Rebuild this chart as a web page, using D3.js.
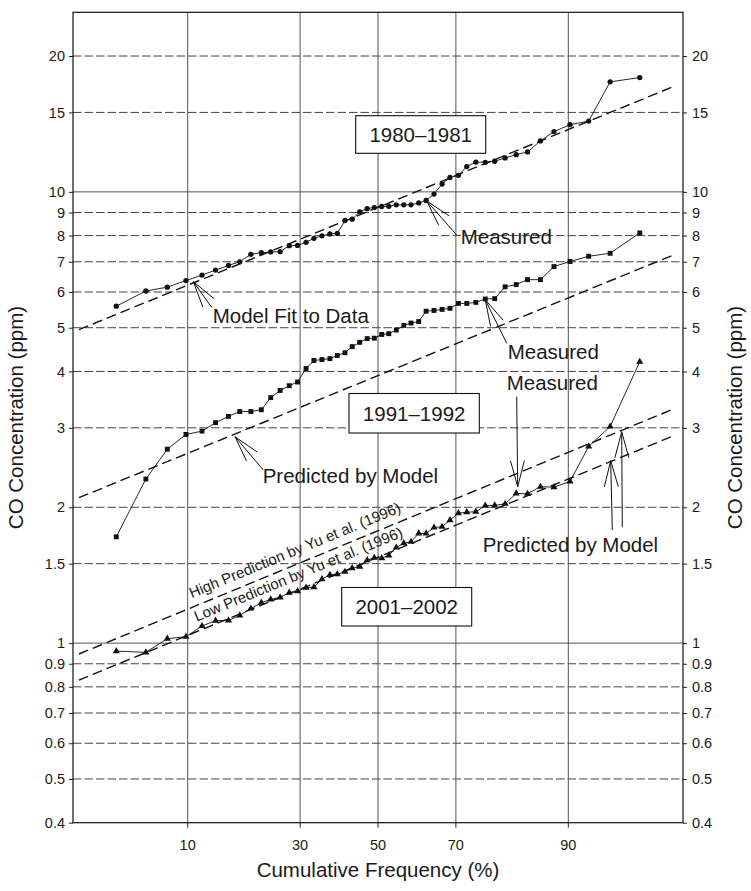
<!DOCTYPE html>
<html lang="en">
<head>
<meta charset="UTF-8">
<title>CO Concentration (ppm) vs Cumulative Frequency</title>
<style>
  body { margin: 0; background: #fff; }
  svg { font-family: "Liberation Sans", Arial, sans-serif; }
  svg text { fill: #1a1a1a; }
</style>
</head>
<body>
<svg width="751" height="891"></svg>
<script src="https://d3js.org/d3.v7.min.js"></script>
<script>
// cumulative frequency (%) of each plotted value (same for all three periods)
const freq = [3.9, 5.9, 7.8, 9.8, 11.8, 13.7, 15.7, 17.6, 19.6, 21.6, 23.5, 25.5,
  27.5, 29.4, 31.4, 33.3, 35.3, 37.3, 39.2, 41.2, 43.1, 45.1, 47.1, 49.0,
  51.0, 52.9, 54.9, 56.9, 58.8, 60.8, 62.7, 64.7, 66.7, 68.6, 70.6, 72.5,
  74.5, 76.5, 78.4, 80.4, 82.4, 84.3, 86.3, 88.2, 90.2, 92.2, 94.1, 96.1];

// measured CO (ppm)
const co1980 = [5.58, 6.03, 6.15, 6.36, 6.54, 6.71, 6.87, 7.00, 7.27, 7.33, 7.36, 7.37,
  7.60, 7.61, 7.73, 7.89, 7.99, 8.07, 8.09, 8.64, 8.70, 9.03, 9.18, 9.23,
  9.28, 9.29, 9.36, 9.36, 9.36, 9.45, 9.57, 9.89, 10.41, 10.76, 10.88, 11.38,
  11.64, 11.63, 11.69, 11.89, 12.09, 12.26, 12.97, 13.60, 14.09, 14.35, 17.53, 17.92];
const co1991 = [1.72, 2.31, 2.69, 2.90, 2.95, 3.08, 3.18, 3.26, 3.26, 3.29, 3.50, 3.63,
  3.72, 3.79, 4.06, 4.23, 4.25, 4.27, 4.34, 4.40, 4.54, 4.64, 4.73, 4.74,
  4.83, 4.85, 4.94, 5.06, 5.12, 5.16, 5.44, 5.46, 5.49, 5.52, 5.66, 5.66,
  5.69, 5.79, 5.80, 6.16, 6.23, 6.39, 6.39, 6.83, 7.01, 7.20, 7.31, 8.11];
const co2001 = [0.960, 0.954, 1.023, 1.033, 1.091, 1.122, 1.123, 1.152, 1.193, 1.229, 1.250, 1.263,
  1.294, 1.304, 1.327, 1.331, 1.386, 1.417, 1.422, 1.439, 1.466, 1.477, 1.527, 1.546,
  1.543, 1.564, 1.629, 1.665, 1.677, 1.750, 1.750, 1.804, 1.811, 1.873, 1.941, 1.951,
  1.955, 2.016, 2.019, 2.036, 2.146, 2.143, 2.221, 2.217, 2.282, 2.728, 3.020, 4.202];

// model lines: value at each end of lineFreq
const lineFreq = [2.2, 97.6];
const fit1980 = [4.95, 17.05];
const pred1991 = [2.10, 7.22];
const high2001 = [0.946, 3.29];
const low2001 = [0.828, 2.87];

const yTicks = [0.4, 0.5, 0.6, 0.7, 0.8, 0.9, 1, 1.5, 2, 3, 4, 5, 6, 7, 8, 9, 10, 15, 20];
const solidY = [1, 10];
const xTicks = [10, 30, 50, 70, 90];

// inverse standard normal CDF (Acklam)
function probit(p) {
  const a = [-3.969683028665376e+01, 2.209460984245205e+02, -2.759285104469687e+02, 1.383577518672690e+02, -3.066479806614716e+01, 2.506628277459239e+00];
  const b = [-5.447609879822406e+01, 1.615858368580409e+02, -1.556989798598866e+02, 6.680131188771972e+01, -1.328068155288572e+01];
  const c = [-7.784894002430293e-03, -3.223964580411365e-01, -2.400758277161838e+00, -2.549732539343734e+00, 4.374664141464968e+00, 2.938163982698783e+00];
  const d = [7.784695709041462e-03, 3.224671290700398e-01, 2.445134137142996e+00, 3.754408661907416e+00];
  const pl = 0.02425;
  let q, r;
  if (p < pl) {
    q = Math.sqrt(-2 * Math.log(p));
    return (((((c[0]*q+c[1])*q+c[2])*q+c[3])*q+c[4])*q+c[5]) / ((((d[0]*q+d[1])*q+d[2])*q+d[3])*q+1);
  }
  if (p > 1 - pl) {
    q = Math.sqrt(-2 * Math.log(1 - p));
    return -(((((c[0]*q+c[1])*q+c[2])*q+c[3])*q+c[4])*q+c[5]) / ((((d[0]*q+d[1])*q+d[2])*q+d[3])*q+1);
  }
  q = p - 0.5; r = q * q;
  return (((((a[0]*r+a[1])*r+a[2])*r+a[3])*r+a[4])*r+a[5])*q / (((((b[0]*r+b[1])*r+b[2])*r+b[3])*r+b[4])*r+1);
}

const svg = d3.select("svg");
const L = 73, R = 683, T = 12.3, B = 822.7;

const zScale = d3.scaleLinear().domain([probit(0.02), probit(0.98)]).range([L, R]);
const x = f => zScale(probit(f / 100));
const y = d3.scaleLog().domain([0.4, 25]).range([B, T]);

// grid
const grid = svg.append("g");
grid.selectAll("line.h")
  .data(yTicks.filter(v => v > 0.4))
  .join("line")
  .attr("x1", L).attr("x2", R)
  .attr("y1", d => y(d)).attr("y2", d => y(d))
  .attr("stroke", d => solidY.includes(d) ? "#555" : "#444")
  .attr("stroke-width", 1)
  .attr("stroke-dasharray", d => solidY.includes(d) ? null : "8.5,3");
grid.selectAll("line.v")
  .data(xTicks)
  .join("line")
  .attr("x1", d => x(d)).attr("x2", d => x(d))
  .attr("y1", T).attr("y2", B)
  .attr("stroke", "#555").attr("stroke-width", 1);

// axes
const fmt = d => String(d);
const axL = svg.append("g").attr("transform", `translate(${L},0)`)
  .call(d3.axisLeft(y).tickValues(yTicks).tickFormat(fmt).tickSize(4).tickPadding(4));
const axR = svg.append("g").attr("transform", `translate(${R},0)`)
  .call(d3.axisRight(y).tickValues(yTicks).tickFormat(fmt).tickSize(4).tickPadding(5));
const xAxis = svg.append("g").attr("transform", `translate(0,${B})`);
xAxis.selectAll("line").data(xTicks).join("line")
  .attr("x1", d => x(d)).attr("x2", d => x(d)).attr("y1", 0).attr("y2", 5)
  .attr("stroke", "#222");
xAxis.selectAll("text").data(xTicks).join("text")
  .attr("x", d => x(d)).attr("y", 27)
  .attr("text-anchor", "middle")
  .attr("font-size", 14.5)
  .text(d => d);

[axL, axR].forEach(g => {
  g.select(".domain").remove();
  g.selectAll("line").attr("stroke", "#222");
  g.selectAll("text").attr("font-size", 14.5).attr("font-family", "Liberation Sans, Arial, sans-serif").attr("fill", "#1a1a1a");
});

// frame
svg.append("rect").attr("x", L).attr("y", T).attr("width", R - L).attr("height", B - T)
  .attr("fill", "none").attr("stroke", "#111").attr("stroke-width", 1.2);

// model lines
const mline = d3.line().x(d => x(d[0])).y(d => y(d[1]));
[fit1980, pred1991, high2001, low2001].forEach(v => {
  svg.append("path")
    .datum(lineFreq.map((f, i) => [f, v[i]]))
    .attr("d", mline)
    .attr("fill", "none").attr("stroke", "#111")
    .attr("stroke-width", 1.4).attr("stroke-dasharray", "10,5");
});

// measured series
const series = [
  {vals: co1980, sym: d3.symbolCircle, size: 22},
  {vals: co1991, sym: d3.symbolSquare, size: 24},
  {vals: co2001, sym: d3.symbolTriangle, size: 22}
];
series.forEach(s => {
  const pts = freq.map((f, i) => [f, s.vals[i]]);
  svg.append("path").datum(pts).attr("d", mline)
    .attr("fill", "none").attr("stroke", "#111").attr("stroke-width", 0.9);
  svg.append("g").selectAll("path").data(pts).join("path")
    .attr("transform", d => `translate(${x(d[0])},${y(d[1])})`)
    .attr("d", d3.symbol().type(s.sym).size(s.size))
    .attr("fill", "#111");
});

// period boxes
const boxes = [
  {label: "1980\u20131981", x: 355.7, y: 115.7, w: 130, h: 37.6},
  {label: "1991\u20131992", x: 349, y: 393.5, w: 130.3, h: 39.5},
  {label: "2001\u20132002", x: 341.7, y: 587.5, w: 130, h: 38.5}
];
boxes.forEach(b => {
  svg.append("rect").attr("x", b.x).attr("y", b.y).attr("width", b.w).attr("height", b.h)
    .attr("fill", "#fff").attr("stroke", "#111").attr("stroke-width", 1.1);
  svg.append("text").attr("x", b.x + b.w / 2).attr("y", b.y + b.h / 2 + 7.3)
    .attr("text-anchor", "middle").attr("font-size", 20.5).text(b.label);
});

// labels with arrows
const notes = [
  {text: "Measured", tx: 460.7, ty: 244, tail: [456.7, 235], tip: [426.7, 201]},
  {text: "Model Fit to Data", tx: 212.7, ty: 322.5, tail: [211.7, 307.3], tip: [193.3, 281.7]},
  {text: "Measured", tx: 507.7, ty: 359.3, tail: [506.7, 343.3], tip: [485.3, 299.8]},
  {text: "Measured", tx: 506.7, ty: 390, tail: [516.7, 396.7], tip: [517.7, 486.7]},
  {text: "Predicted by Model", tx: 262.7, ty: 483, tail: [263.3, 470], tip: [235, 436.7]},
  {text: "Predicted by Model", tx: 482.7, ty: 551.7, tail: [612.3, 530], tip: [610.7, 460.7]},
  {text: null, tail: [622.3, 527.3], tip: [621.7, 431.7]}
];
const head = 27, half = 15 * Math.PI / 180;
notes.forEach(n => {
  if (n.text) svg.append("text").attr("x", n.tx).attr("y", n.ty).attr("font-size", 20.5).text(n.text);
  const [x0, y0] = n.tail, [x1, y1] = n.tip;
  const ang = Math.atan2(y0 - y1, x0 - x1);
  const g = svg.append("g").attr("stroke", "#111").attr("stroke-width", 1).attr("fill", "none");
  g.append("line").attr("x1", x0).attr("y1", y0).attr("x2", x1).attr("y2", y1);
  [-half, half].forEach(a => {
    g.append("line").attr("x1", x1).attr("y1", y1)
      .attr("x2", x1 + head * Math.cos(ang + a)).attr("y2", y1 + head * Math.sin(ang + a));
  });
});

// labels along the Yu et al. lines
const slopeAng = Math.atan2(y(high2001[1]) - y(high2001[0]), x(lineFreq[1]) - x(lineFreq[0])) * 180 / Math.PI;
[
  {text: "High Prediction by Yu et al. (1996)", px: 191.7, py: 598.3},
  {text: "Low Prediction by Yu et al. (1996)", px: 196.7, py: 621.7}
].forEach(t => {
  svg.append("text")
    .attr("transform", `translate(${t.px},${t.py}) rotate(${slopeAng})`)
    .attr("font-size", 15).text(t.text);
});

// axis titles
svg.append("text").attr("x", (L + R) / 2).attr("y", 877).attr("text-anchor", "middle")
  .attr("font-size", 20.5).text("Cumulative Frequency (%)");
svg.append("text").attr("transform", `translate(23,${(T + B) / 2}) rotate(-90)`)
  .attr("text-anchor", "middle").attr("font-size", 20.5).text("CO Concentration (ppm)");
svg.append("text").attr("transform", `translate(742,${(T + B) / 2}) rotate(-90)`)
  .attr("text-anchor", "middle").attr("font-size", 20.5).text("CO Concentration (ppm)");
</script>
</body>
</html>
